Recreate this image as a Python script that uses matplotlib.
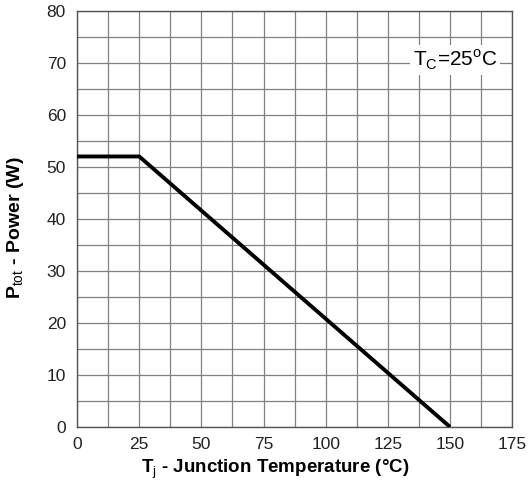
import matplotlib
matplotlib.use("Agg")
import matplotlib.pyplot as plt
import numpy as np

# derating curve
temp_c = [0, 25, 150]
power_w = [52, 52, 0]

x_ticks = [0, 25, 50, 75, 100, 125, 150, 175]
y_ticks = [0, 10, 20, 30, 40, 50, 60, 70, 80]

plt.rcParams["font.family"] = ["Liberation Sans", "DejaVu Sans"]
plt.rcParams["mathtext.fontset"] = "custom"
plt.rcParams["mathtext.rm"] = "Liberation Sans"
plt.rcParams["mathtext.bf"] = "Liberation Sans:bold"

fig = plt.figure(figsize=(5.28, 4.93), dpi=100)
ax = fig.add_axes([0.146, 0.134, 0.824, 0.844])

ax.plot(temp_c, power_w, color="black", linewidth=2.8, solid_capstyle="butt", zorder=3)

ax.set_xlim(0, 175)
ax.set_ylim(0, 80)
ax.set_xticks(x_ticks)
ax.set_yticks(y_ticks)
ax.set_xticks(np.arange(0, 176, 12.5), minor=True)
ax.set_yticks(np.arange(0, 81, 5), minor=True)
ax.grid(True, which="both", color="#808080", linewidth=0.9)
ax.tick_params(which="both", length=0, labelsize=12.5, colors="#222222")
ax.tick_params(axis="x", pad=7)
ax.tick_params(axis="y", pad=8)
for s in ax.spines.values():
    s.set_color("#555555")
    s.set_linewidth(1.0)

ax.set_xlabel(r"$\mathbf{T}_{\mathrm{j}}$ - Junction Temperature (°C)",
              fontsize=13.5, fontweight="bold")
ax.xaxis.set_label_coords(0.455, -0.073)
ax.set_ylabel(r"$\mathbf{P}_{\mathrm{tot}}$ - Power (W)",
              fontsize=14, fontweight="bold")
ax.yaxis.set_label_coords(-0.118, 0.48)

ax.text(152, 70.5, r"T$_\mathrm{C}$=25$^\mathrm{o}$C", fontsize=15,
        ha="center", va="center",
        bbox=dict(facecolor="white", edgecolor="none", pad=2), zorder=4)

fig.savefig("out.png", dpi=100)
